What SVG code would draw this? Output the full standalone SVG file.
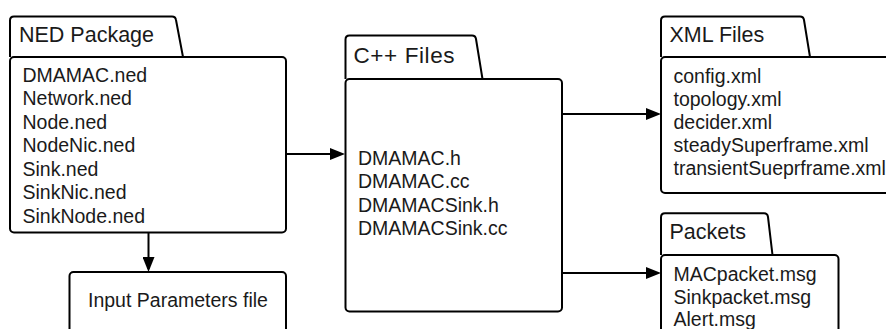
<svg xmlns="http://www.w3.org/2000/svg" width="886" height="329" viewBox="0 0 886 329">
  <defs>
    <style>
      .shape { fill: #ffffff; stroke: #000000; stroke-width: 2; stroke-linejoin: round; }
      .title { font-family: "Liberation Sans", Arial, sans-serif; font-size: 21.5px; fill: #1a1a1a; }
      .item { font-family: "Liberation Sans", Arial, sans-serif; font-size: 19.5px; fill: #1a1a1a; }
      .link { fill: none; stroke: #000000; stroke-width: 2; marker-end: url(#arrow); }
    </style>
    <marker id="arrow" markerUnits="userSpaceOnUse" viewBox="0 0 15 12" refX="12" refY="6" markerWidth="15" markerHeight="12" orient="auto">
      <path d="M0,0 L15,6 L0,12 Z" fill="#000000"/>
    </marker>
  </defs>

  <rect width="886" height="329" fill="#ffffff"/>

  <!-- connectors -->
  <g id="connectors">
    <path class="link" d="M286,154 H342"/>
    <path class="link" d="M148.5,233 V269"/>
    <path class="link" d="M562,114 H658"/>
    <path class="link" d="M562,273 H658"/>
  </g>

  <!-- NED package folder -->
  <g id="ned-package">
    <path class="shape" d="M10,57 V20.5 Q10,16.5 14,16.5 H172 Q175.5,16.5 176,20 L183,57"/>
    <rect class="shape" x="10" y="57" width="276" height="175.5" rx="4"/>
    <text class="title" x="19" y="42">NED Package</text>
    <text class="item" x="22.5" y="81.7">DMAMAC.ned</text>
    <text class="item" x="22.5" y="105.2">Network.ned</text>
    <text class="item" x="22.5" y="128.7">Node.ned</text>
    <text class="item" x="22.5" y="152.2">NodeNic.ned</text>
    <text class="item" x="22.5" y="175.7">Sink.ned</text>
    <text class="item" x="22.5" y="199.2">SinkNic.ned</text>
    <text class="item" x="22.5" y="222.7">SinkNode.ned</text>
  </g>

  <!-- input parameters box -->
  <g id="input-parameters">
    <rect class="shape" x="69.5" y="272" width="216.5" height="80" rx="4"/>
    <text class="item" x="88" y="307">Input Parameters file</text>
  </g>

  <!-- C++ files folder -->
  <g id="cpp-files">
    <path class="shape" d="M345.5,79 V39.5 Q345.5,35.5 349.5,35.5 H472 Q475.5,35.5 476,39 L482.5,79"/>
    <rect class="shape" x="345.5" y="79" width="216.5" height="232.5" rx="4"/>
    <text class="title" x="353.5" y="62.5" style="font-size:22.5px" textLength="101" lengthAdjust="spacing">C++ Files</text>
    <text class="item" x="358" y="164.5">DMAMAC.h</text>
    <text class="item" x="358" y="188">DMAMAC.cc</text>
    <text class="item" x="358" y="211.5">DMAMACSink.h</text>
    <text class="item" x="358" y="235">DMAMACSink.cc</text>
  </g>

  <!-- XML files folder -->
  <g id="xml-files">
    <path class="shape" d="M661,57 V20.5 Q661,16.5 665,16.5 H800 Q803.5,16.5 804,20 L810,57"/>
    <rect class="shape" x="661" y="57" width="260" height="136" rx="4"/>
    <text class="title" x="669.5" y="41.5">XML Files</text>
    <text class="item" x="673.5" y="82.5">config.xml</text>
    <text class="item" x="673.5" y="105.7">topology.xml</text>
    <text class="item" x="673.5" y="128.9">decider.xml</text>
    <text class="item" x="673.5" y="152.1">steadySuperframe.xml</text>
    <text class="item" x="673.5" y="175.3">transientSueprframe.xml</text>
  </g>

  <!-- packets folder -->
  <g id="packets">
    <path class="shape" d="M661,255 V217.3 Q661,213.3 665,213.3 H764 Q767.5,213.3 768,217 L772.5,255"/>
    <rect class="shape" x="661" y="255" width="177.5" height="100" rx="4"/>
    <text class="title" x="669.5" y="238.5">Packets</text>
    <text class="item" x="673.5" y="281">MACpacket.msg</text>
    <text class="item" x="673.5" y="303.5">Sinkpacket.msg</text>
    <text class="item" x="673.5" y="326">Alert.msg</text>
  </g>
</svg>
